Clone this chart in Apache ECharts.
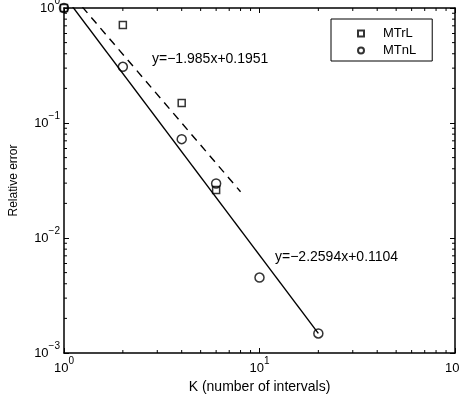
<!DOCTYPE html>
<html>
<head>
<meta charset="utf-8">
<script src="https://cdn.jsdelivr.net/npm/echarts@6/dist/echarts.min.js"></script>
<style>
  html, body { margin: 0; padding: 0; background: #fff; }
  #chart { width: 460px; height: 395px; }
</style>
</head>
<body>
<div id="chart"></div>
<script>
// Convergence data: relative error against number of intervals K
const kMTrL = [1, 2, 4, 6];
const errMTrL = [1.0, 0.71, 0.149, 0.0261];
const kMTnL = [1, 2, 4, 6, 10, 20];
const errMTnL = [1.0, 0.308, 0.0724, 0.0298, 0.00453, 0.00148];

// Least-squares fits in log10 space: log10(err) = slope * log10(K) + intercept
const fitSlopes = ['-1.985', '-2.2594'];
const fitIntercepts = ['0.1951', '0.1104'];
const fitKRange = [[1, 8], [1, 20]];

// Axis ranges and decade ticks
const xRange = [1, 100];
const yRange = [0.001, 1];

const FONT = '"Liberation Sans", Arial, Helvetica, sans-serif';
const SQUARE = 'path://M0,0L10,0L10,10L0,10Z';

function fitLine(i) {
  const s = parseFloat(fitSlopes[i]);
  const b = parseFloat(fitIntercepts[i]);
  return fitKRange[i].map(k => [k, Math.pow(10, s * Math.log10(k) + b)]);
}
function fitText(i) {
  return 'y=' + fitSlopes[i].replace('-', '\u2212') + 'x+' + fitIntercepts[i];
}

// Minor ticks at 2..9 within each decade
const minorTicks = [];
for (let d = xRange[0]; d < xRange[1]; d *= 10) {
  for (let m = 2; m <= 9; m++) minorTicks.push([d * m, yRange[0], 0]);
}
for (let d = yRange[0]; d < yRange[1] * 0.999; d *= 10) {
  for (let m = 2; m <= 9; m++) minorTicks.push([xRange[0], d * m, 1]);
}

function powLabel(v) {
  const e = Math.round(Math.log10(v));
  const es = e < 0 ? '\u2212' + (-e) : String(e);
  return '{b|10}{s|' + es + '}';
}
const richPow = {
  b: { fontSize: 13, fontFamily: FONT, color: '#000', lineHeight: 13, padding: [6, 0, 0, 0] },
  s: { fontSize: 10, fontFamily: FONT, color: '#000', lineHeight: 11, padding: [0, 0, 8, 0] }
};

const frameLine = { show: true, lineStyle: { color: '#000', width: 1.5 } };
const majorTick = { show: true, inside: true, length: 5, lineStyle: { color: '#000', width: 1 } };

const chart = echarts.init(document.getElementById('chart'), null, { renderer: 'canvas' });

chart.setOption({
  backgroundColor: '#fff',
  animation: false,
  grid: { left: 64, top: 8, right: 5, bottom: 42, outerBoundsMode: 'none', containLabel: false },
  xAxis: [
    {
      type: 'log', logBase: 10, min: xRange[0], max: xRange[1],
      position: 'bottom',
      name: 'K (number of intervals)', nameLocation: 'middle', nameGap: 23,
      nameTextStyle: { fontSize: 14, fontFamily: FONT, color: '#000' },
      axisLine: frameLine, axisTick: majorTick,
      axisLabel: { margin: 6, formatter: powLabel, rich: richPow, hideOverlap: false },
      splitLine: { show: false }
    },
    {
      type: 'log', logBase: 10, min: xRange[0], max: xRange[1],
      position: 'top',
      axisLine: frameLine, axisTick: majorTick,
      axisLabel: { show: false }, splitLine: { show: false }
    }
  ],
  yAxis: [
    {
      type: 'log', logBase: 10, min: yRange[0], max: yRange[1],
      position: 'left',
      name: 'Relative error', nameLocation: 'middle', nameGap: 44,
      nameTextStyle: { fontSize: 12, fontFamily: FONT, color: '#000' },
      axisLine: frameLine, axisTick: majorTick,
      axisLabel: { margin: 4, formatter: powLabel, rich: richPow, padding: [0, 0, 6, 0] },
      splitLine: { show: false }
    },
    {
      type: 'log', logBase: 10, min: yRange[0], max: yRange[1],
      position: 'right',
      axisLine: frameLine, axisTick: majorTick,
      axisLabel: { show: false }, splitLine: { show: false }
    }
  ],
  legend: {
    data: ['MTrL', 'MTnL'],
    orient: 'vertical',
    left: 331, top: 19,
    itemWidth: 34, itemHeight: 6, itemGap: 4,
    symbolKeepAspect: true,
    padding: [8, 16, 4, 26],
    borderColor: '#000', borderWidth: 1,
    backgroundColor: '#fff',
    textStyle: { fontSize: 13, fontFamily: FONT, color: '#000' }
  },
  series: [
    {
      name: 'fit MTrL', type: 'line', data: fitLine(0),
      showSymbol: false, symbol: 'none', silent: true,
      lineStyle: { color: '#000', width: 1.4, type: [8, 6] },
      clip: true, z: 2
    },
    {
      name: 'fit MTnL', type: 'line', data: fitLine(1),
      showSymbol: false, symbol: 'none', silent: true,
      lineStyle: { color: '#000', width: 1.4 },
      clip: true, z: 2
    },
    {
      name: 'MTrL', type: 'scatter', symbol: SQUARE, symbolSize: 7,
      data: kMTrL.map((k, i) => [k, errMTrL[i]]),
      itemStyle: { color: 'rgba(0,0,0,0)', borderColor: '#000', borderWidth: 1.5 },
      clip: false, z: 3
    },
    {
      name: 'MTnL', type: 'scatter', symbol: 'circle', symbolSize: 9,
      data: kMTnL.map((k, i) => [k, errMTnL[i]]),
      itemStyle: { color: 'rgba(0,0,0,0)', borderColor: '#000', borderWidth: 1.5 },
      clip: false, z: 3
    },
    {
      // minor ticks drawn inward on all four sides of the frame
      type: 'custom', silent: true, clip: false, z: 4,
      data: minorTicks,
      renderItem: function (params, api) {
        const isY = api.value(2) === 1;
        const v = isY ? api.value(1) : api.value(0);
        const L = 3;
        let a, b;
        if (!isY) {
          a = api.coord([v, yRange[0]]);
          b = api.coord([v, yRange[1]]);
          return {
            type: 'group', children: [
              { type: 'line', shape: { x1: a[0], y1: a[1], x2: a[0], y2: a[1] - L }, style: { stroke: '#000', lineWidth: 1 } },
              { type: 'line', shape: { x1: b[0], y1: b[1], x2: b[0], y2: b[1] + L }, style: { stroke: '#000', lineWidth: 1 } }
            ]
          };
        }
        a = api.coord([xRange[0], v]);
        b = api.coord([xRange[1], v]);
        return {
          type: 'group', children: [
            { type: 'line', shape: { x1: a[0], y1: a[1], x2: a[0] + L, y2: a[1] }, style: { stroke: '#000', lineWidth: 1 } },
            { type: 'line', shape: { x1: b[0], y1: b[1], x2: b[0] - L, y2: b[1] }, style: { stroke: '#000', lineWidth: 1 } }
          ]
        };
      }
    }
  ],
  graphic: [
    { type: 'text', left: 152, top: 52, style: { text: fitText(0), font: '14px ' + FONT, fill: '#000' } },
    { type: 'text', left: 275, top: 250, style: { text: fitText(1), font: '14px ' + FONT, fill: '#000' } }
  ]
});
</script>
</body>
</html>
